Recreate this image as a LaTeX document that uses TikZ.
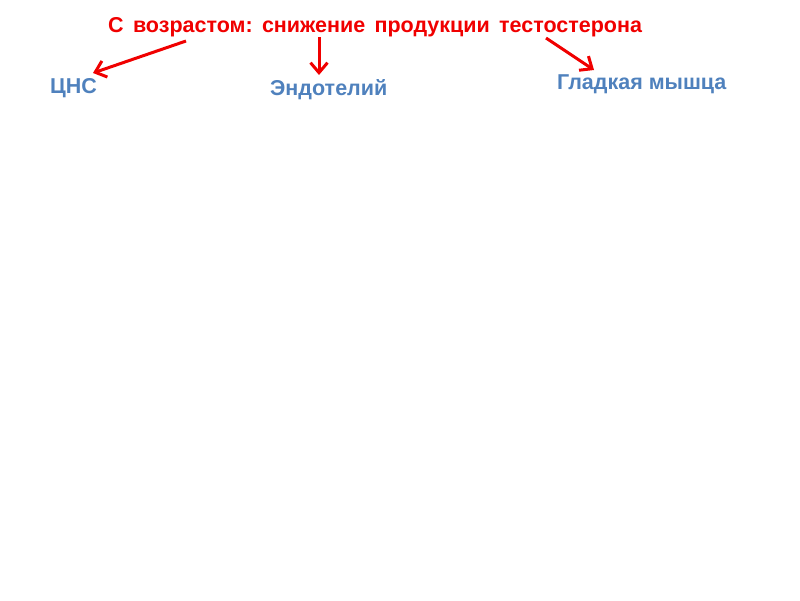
\documentclass[tikz,border=0pt]{standalone}
\usepackage{fontspec}
\setmainfont{Liberation Sans}
\usetikzlibrary{arrows.meta}
\definecolor{titlered}{RGB}{240,0,0}
\definecolor{labelblue}{RGB}{79,129,189}
\tikzset{
  titletext/.style={font=\bfseries\fontsize{21.5}{24}\selectfont, text=titlered, inner sep=0pt, anchor=base west},
  organ/.style={font=\bfseries\fontsize{21.5}{24}\selectfont, text=labelblue, inner sep=0pt, anchor=base west},
  redarrow/.style={draw=titlered, line width=3pt, -{Straight Barb[length=10pt,width=17pt,line width=3pt]}}
}
\begin{document}
\begin{tikzpicture}[x=1pt,y=-1pt]
\useasboundingbox (0,0) rectangle (800,600);
\node[titletext] (title) at (108,32) {С\hspace{9.3pt}возрастом:\hspace{9.3pt}снижение\hspace{9.3pt}продукции\hspace{9.3pt}тестостерона};
\node[organ] (cns) at (50,93) {ЦНС};
\node[organ] (endo) at (270,95) {Эндотелий};
\node[organ] (smooth) at (557,89) {Гладкая мышца};
\coordinate (s1) at (186,41);
\coordinate (s2) at (319,37);
\coordinate (s3) at (546,38);
\coordinate (e1) at (93,73);
\coordinate (e2) at (319,75);
\coordinate (e3) at (594,70);
\draw[redarrow] (s1) -- (e1);
\draw[redarrow] (s2) -- (e2);
\draw[redarrow] (s3) -- (e3);
\end{tikzpicture}
\end{document}
